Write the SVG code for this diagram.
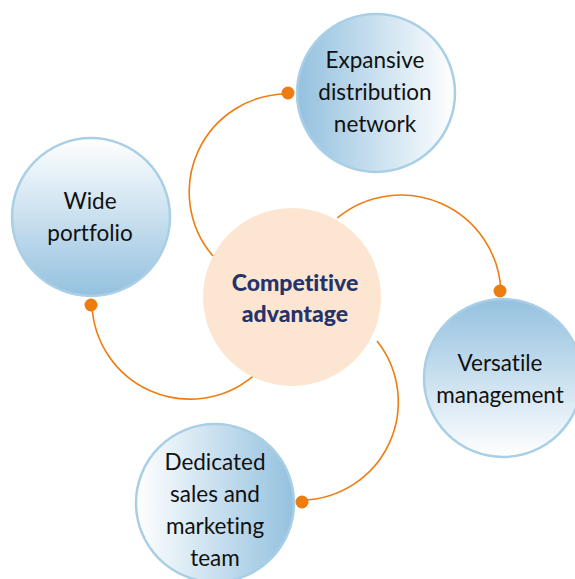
<svg xmlns="http://www.w3.org/2000/svg" width="575" height="579" viewBox="0 0 575 579">
<defs>
<linearGradient id="gLR" x1="0" y1="0" x2="1" y2="0"><stop offset="0" stop-color="#94c1df"/><stop offset="1" stop-color="#ffffff"/></linearGradient>
<linearGradient id="gRL" x1="0" y1="0" x2="1" y2="0"><stop offset="0" stop-color="#ffffff"/><stop offset="1" stop-color="#94c1df"/></linearGradient>
<linearGradient id="gTB" x1="0" y1="0" x2="0" y2="1"><stop offset="0" stop-color="#ffffff"/><stop offset="1" stop-color="#94c1df"/></linearGradient>
<linearGradient id="gBT" x1="0" y1="0" x2="0" y2="1"><stop offset="0" stop-color="#94c1df"/><stop offset="1" stop-color="#ffffff"/></linearGradient>
<style>
.node{stroke:#a9cfe6;stroke-width:2.5}
.lbl{font-family:Lato,"Liberation Sans",sans-serif;font-size:22.5px;fill:#111;text-anchor:middle;font-variant-ligatures:none}
.core{font-family:Lato,"Liberation Sans",sans-serif;font-size:23px;font-weight:900;fill:#25336a;text-anchor:middle;font-variant-ligatures:none}
.arc{fill:none;stroke:#ee7d11;stroke-width:1.6}
.dot{fill:#ee7d11}
</style>
</defs>
<g id="connectors">
<path class="arc" d="M288 94 A98 98 0 0 0 213 256"/>
<path class="arc" d="M337.4 217.9 A100 100 0 0 1 500.9 291"/>
<path class="arc" d="M377 341 A98 98 0 0 1 302 500"/>
<path class="arc" d="M92 305 A98 98 0 0 0 252.8 376.3"/>
<circle class="dot" cx="288" cy="93" r="6.5"/>
<circle class="dot" cx="500" cy="291" r="6.5"/>
<circle class="dot" cx="302" cy="502" r="6.5"/>
<circle class="dot" cx="91" cy="305" r="6.5"/>
</g>
<g id="core">
<circle cx="292" cy="297" r="89" fill="#fde6d1"/>
<text class="core" x="295" y="291">Competitive</text>
<text class="core" x="295" y="322">advantage</text>
</g>
<g id="expansive">
<circle class="node" cx="376" cy="93" r="79" fill="url(#gLR)"/>
<text class="lbl" x="375" y="68">Expansive</text>
<text class="lbl" x="375" y="100">distribution</text>
<text class="lbl" x="375" y="132">network</text>
</g>
<g id="wide">
<circle class="node" cx="91" cy="217" r="79" fill="url(#gTB)"/>
<text class="lbl" x="90" y="209">Wide</text>
<text class="lbl" x="90" y="241">portfolio</text>
</g>
<g id="versatile">
<circle class="node" cx="503" cy="378" r="79" fill="url(#gBT)"/>
<text class="lbl" x="500" y="371">Versatile</text>
<text class="lbl" x="500" y="403">management</text>
</g>
<g id="dedicated">
<circle class="node" cx="215" cy="503" r="79" fill="url(#gRL)"/>
<text class="lbl" x="215" y="470">Dedicated</text>
<text class="lbl" x="215" y="502">sales and</text>
<text class="lbl" x="215" y="534">marketing</text>
<text class="lbl" x="215" y="566">team</text>
</g>
</svg>
